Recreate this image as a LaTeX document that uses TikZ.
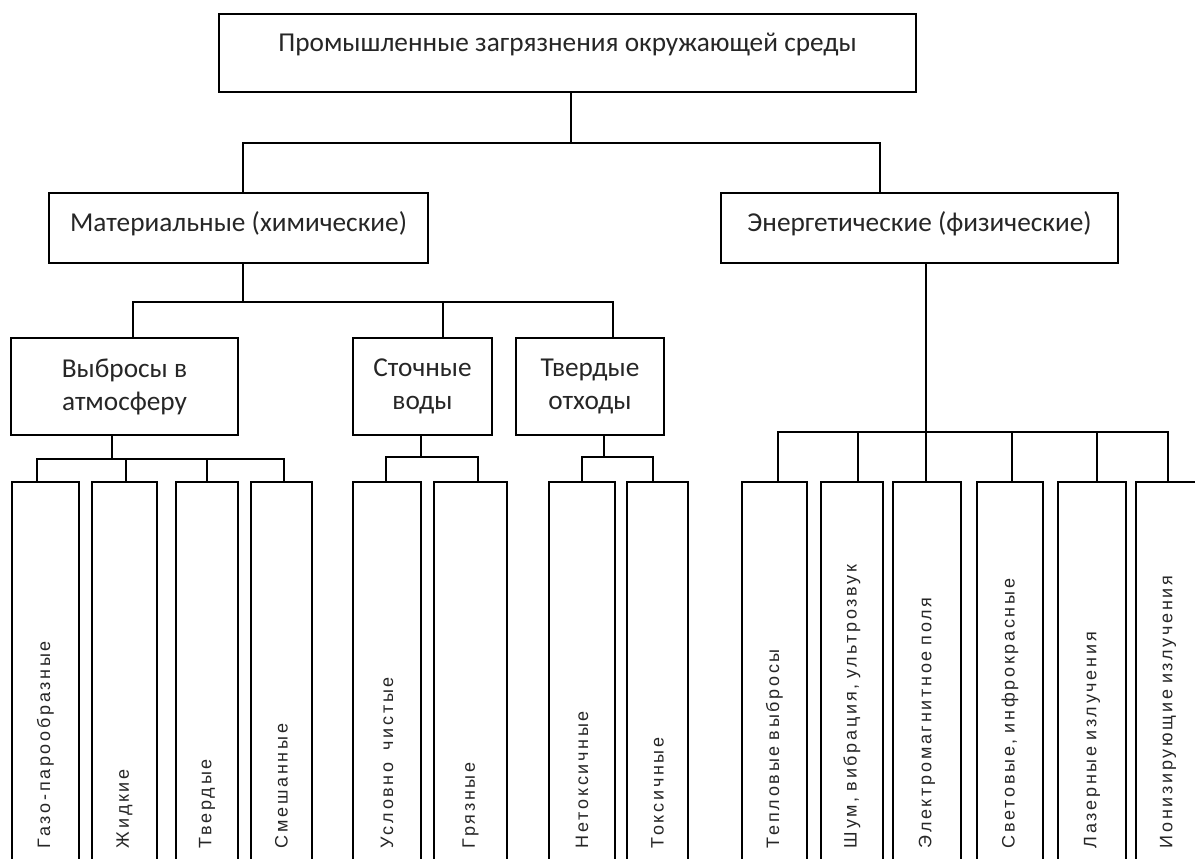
\documentclass[tikz,border=0pt]{standalone}
\usepackage{fontspec}
\setmainfont{Carlito}
\newfontfamily\leaffont[LetterSpace=15,WordSpace=2]{Liberation Sans}
\begin{document}
\begin{tikzpicture}[x=1pt,y=-1pt,
  conn/.style={line width=1.5pt, line join=miter},
  box/.style={draw, line width=1.5pt, inner sep=0pt, text=black!85,
    font=\fontsize{27.3}{33}\selectfont},
  twobox/.style={box, align=center, minimum height=97pt},
  leafbox/.style={draw, line width=1.5pt, rotate=90, inner xsep=22pt, inner ysep=0pt,
    text width=344pt, align=left, text=black!85,
    font=\leaffont\fontsize{18}{21}\selectfont}]
\useasboundingbox (0,0) rectangle (1195,859);

% level 0 and 1
\node[box, minimum width=697pt, text height=38pt, text depth=40pt] (top) at (567.5,53) {Промышленные загрязнения окружающей среды};
\node[box, minimum width=379pt, text height=38pt, text depth=32pt] (mat) at (238.5,228) {Материальные (химические)};
\node[box, minimum width=397pt, text height=38pt, text depth=32pt] (en) at (919.5,228) {Энергетические (физические)};

% level 2
\node[twobox, minimum width=227pt] (vyb) at (124.5,386.5) {Выбросы в\\атмосферу};
\node[twobox, minimum width=139pt] (st) at (422.5,386.5) {Сточные\\воды};
\node[twobox, minimum width=148pt] (tv) at (590,386.5) {Твердые\\отходы};

% leaves
\node[leafbox, minimum height=67pt] (l1) at (45.5,676) {Газо-парообразные};
\node[leafbox, minimum height=65pt] (l2) at (124.5,676) {Жидкие};
\node[leafbox, minimum height=62pt] (l3) at (207,676) {Твердые};
\node[leafbox, minimum height=61pt] (l4) at (281.5,676) {Смешанные};
\node[leafbox, minimum height=68pt] (l5) at (387,676) {Условно\ \ чистые};
\node[leafbox, minimum height=73pt] (l6) at (470.5,676) {Грязные};
\node[leafbox, minimum height=66pt] (l7) at (582,676) {Нетоксичные};
\node[leafbox, minimum height=61pt] (l8) at (657.5,676) {Токсичные};
\node[leafbox, minimum height=65pt] (l9) at (774.5,676) {Тепловые выбросы};
\node[leafbox, minimum height=62pt] (l10) at (852,676) {Шум, вибрация, ультрозвук};
\node[leafbox, minimum height=68pt] (l11) at (927,676) {Электромагнитное поля};
\node[leafbox, minimum height=66pt] (l12) at (1010,676) {Световые, инфрокрасные};
\node[leafbox, minimum height=68pt] (l13) at (1092,676) {Лазерные излучения};
\node[leafbox, minimum height=64pt] (l14) at (1168,676) {Ионизирующие излучения};

% junction points
\coordinate (h0) at (571,143);
\coordinate (h1) at (243,143);
\coordinate (h2) at (880,143);
\coordinate (m0) at (243,302);
\coordinate (m1) at (133,302);
\coordinate (m2) at (443,302);
\coordinate (m3) at (613,302);
\coordinate (va) at (112,459);
\coordinate (v1) at (37,459);
\coordinate (v2) at (126,459);
\coordinate (v3) at (207,459);
\coordinate (v4) at (284,459);
\coordinate (sa) at (421,457);
\coordinate (s1) at (386,457);
\coordinate (s2) at (478,457);
\coordinate (ta) at (604,457);
\coordinate (t1) at (582,457);
\coordinate (t2) at (653,457);
\coordinate (e0) at (926,432);
\coordinate (e1) at (778,432);
\coordinate (e2) at (858,432);
\coordinate (e4) at (1012,432);
\coordinate (e5) at (1097,432);
\coordinate (e6) at (1168,432);

% connectors
\draw[conn] (h0 |- top.south) -- (h0);
\draw[conn] (h1 |- mat.north) -- (h1) -- (h2) -- (h2 |- en.north);

\draw[conn] (m0 |- mat.south) -- (m0);
\draw[conn] (m1 |- vyb.north) -- (m1) -- (m3) -- (m3 |- tv.north);
\draw[conn] (m2) -- (m2 |- st.north);

\draw[conn] (va |- vyb.south) -- (va);
\draw[conn] (v1 |- l1.east) -- (v1) -- (v4) -- (v4 |- l4.east);
\draw[conn] (v2) -- (v2 |- l2.east);
\draw[conn] (v3) -- (v3 |- l3.east);

\draw[conn] (sa |- st.south) -- (sa);
\draw[conn] (s1 |- l5.east) -- (s1) -- (s2) -- (s2 |- l6.east);

\draw[conn] (ta |- tv.south) -- (ta);
\draw[conn] (t1 |- l7.east) -- (t1) -- (t2) -- (t2 |- l8.east);

\draw[conn] (e0 |- en.south) -- (e0 |- l11.east);
\draw[conn] (e1 |- l9.east) -- (e1) -- (e6) -- (e6 |- l14.east);
\draw[conn] (e2) -- (e2 |- l10.east);
\draw[conn] (e4) -- (e4 |- l12.east);
\draw[conn] (e5) -- (e5 |- l13.east);
\end{tikzpicture}
\end{document}
